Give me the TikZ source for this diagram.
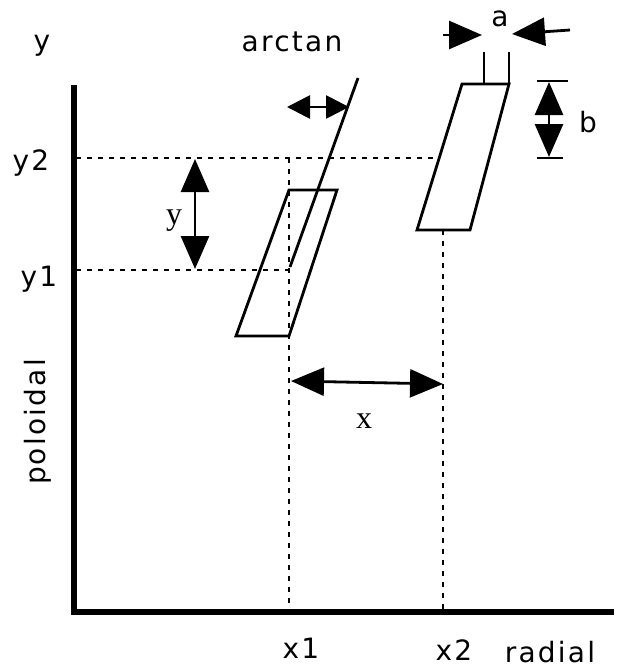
\documentclass[tikz,border=0pt]{standalone}
\usepackage{fontspec}
\setmainfont{DejaVu Sans}[LetterSpace=8]
\newfontfamily\serifx{Liberation Serif}
\usetikzlibrary{arrows.meta}
\tikzset{
  lab/.style={font=\fontsize{28}{32}\selectfont, inner sep=0pt, anchor=base},
  slab/.style={font=\serifx\fontsize{32}{36}\selectfont, inner sep=0pt, anchor=base},
  ln/.style={line width=2.8pt},
  ax/.style={line width=5.5pt, line join=miter},
  dots/.style={line width=2.8pt, dash pattern=on 5pt off 6pt},
  bigtip/.style={ln, {Triangle[length=33pt,width=28pt]}-{Triangle[length=33pt,width=28pt]}},
  smalltip/.style={ln, {Triangle[length=23pt,width=23pt]}-{Triangle[length=23pt,width=23pt]}},
  onetip/.style={ln, -{Triangle[length=33pt,width=28pt]}},
}
\begin{document}
\begin{tikzpicture}[x=1pt,y=-1pt]
\useasboundingbox (0,0) rectangle (618,669);
% coordinates
\coordinate (ytop) at (74,85);
\coordinate (orig) at (74,612);
\coordinate (xend) at (614,612);
\coordinate (y2a) at (76,158);
\coordinate (y2b) at (439,158);
\coordinate (y1a) at (76,270);
\coordinate (y1b) at (289,270);
\coordinate (x1a) at (289,158);
\coordinate (x1b) at (289,610);
\coordinate (x2a) at (443,230);
\coordinate (x2b) at (443,610);
% left parallelogram
\coordinate (L1) at (236,336);
\coordinate (L2) at (289,336);
\coordinate (L3) at (337,190);
\coordinate (L4) at (289,190);
% right parallelogram
\coordinate (R1) at (417,230);
\coordinate (R2) at (470,230);
\coordinate (R3) at (509,84);
\coordinate (R4) at (462,84);
% arctan line
\coordinate (ta) at (290,267);
\coordinate (tb) at (358,78);
\coordinate (aa) at (287,107);
\coordinate (ab) at (349,107);
% ticks a
\coordinate (ta1) at (484,52);
\coordinate (ta2) at (484,84);
\coordinate (tb1) at (509,52);
% a arrows
\coordinate (a1s) at (443,35);
\coordinate (a1e) at (482,35);
\coordinate (a2s) at (570,30);
\coordinate (a2e) at (512,34);
% b ticks
\coordinate (b1a) at (537,81);
\coordinate (b1b) at (568,81);
\coordinate (b2a) at (537,158);
\coordinate (b2b) at (563,158);
\coordinate (bu) at (549,82);
\coordinate (bd) at (549,157);
% y arrow
\coordinate (yu) at (195,159);
\coordinate (yd) at (195,269);
% x arrow
\coordinate (xl) at (291,381);
\coordinate (xr) at (443,384);

% axes
\draw[ax] (ytop) -- (orig) -- (xend);
% dotted guides
\draw[dots] (y2a) -- (y2b);
\draw[dots] (y1a) -- (y1b);
\draw[dots] (x1a) -- (x1b);
\draw[dots] (x2a) -- (x2b);
% parallelograms
\draw[ln] (L1) -- (L2) -- (L3) -- (L4) -- cycle;
\draw[ln] (R1) -- (R2) -- (R3) -- (R4) -- cycle;
% arctan line and arrow
\draw[ln] (ta) -- (tb);
\draw[smalltip] (aa) -- (ab);
% a ticks and arrows
\draw[ln] (ta1) -- (ta2);
\draw[ln] (tb1) -- (R3);
\draw[onetip] (a1s) -- (a1e);
\draw[onetip] (a2s) -- (a2e);
% b ticks and arrow
\draw[ln] (b1a) -- (b1b);
\draw[ln] (b2a) -- (b2b);
\draw[bigtip] (bu) -- (bd);
% y and x arrows
\draw[bigtip] (yu) -- (yd);
\draw[bigtip] (xl) -- (xr);

% labels
\node[lab] (ylab) at (42,51) {y};
\node[lab] (arctan) at (292,52) {arctan};
\node[lab] (alab) at (500,27) {a};
\node[lab] (blab) at (588,132) {b};
\node[lab] (y2lab) at (31,170) {y2};
\node[lab] (y1lab) at (39,286) {y1};
\node[lab, rotate=90, anchor=center] (pol) at (38,422) {poloidal};
\node[lab] (x1lab) at (301,658) {x1};
\node[lab] (x2lab) at (454,660) {x2};
\node[lab] (radial) at (550,662) {radial};
\node[slab] (ydlab) at (174,224) {y};
\node[slab] (xdlab) at (364,428) {x};
\end{tikzpicture}
\end{document}
